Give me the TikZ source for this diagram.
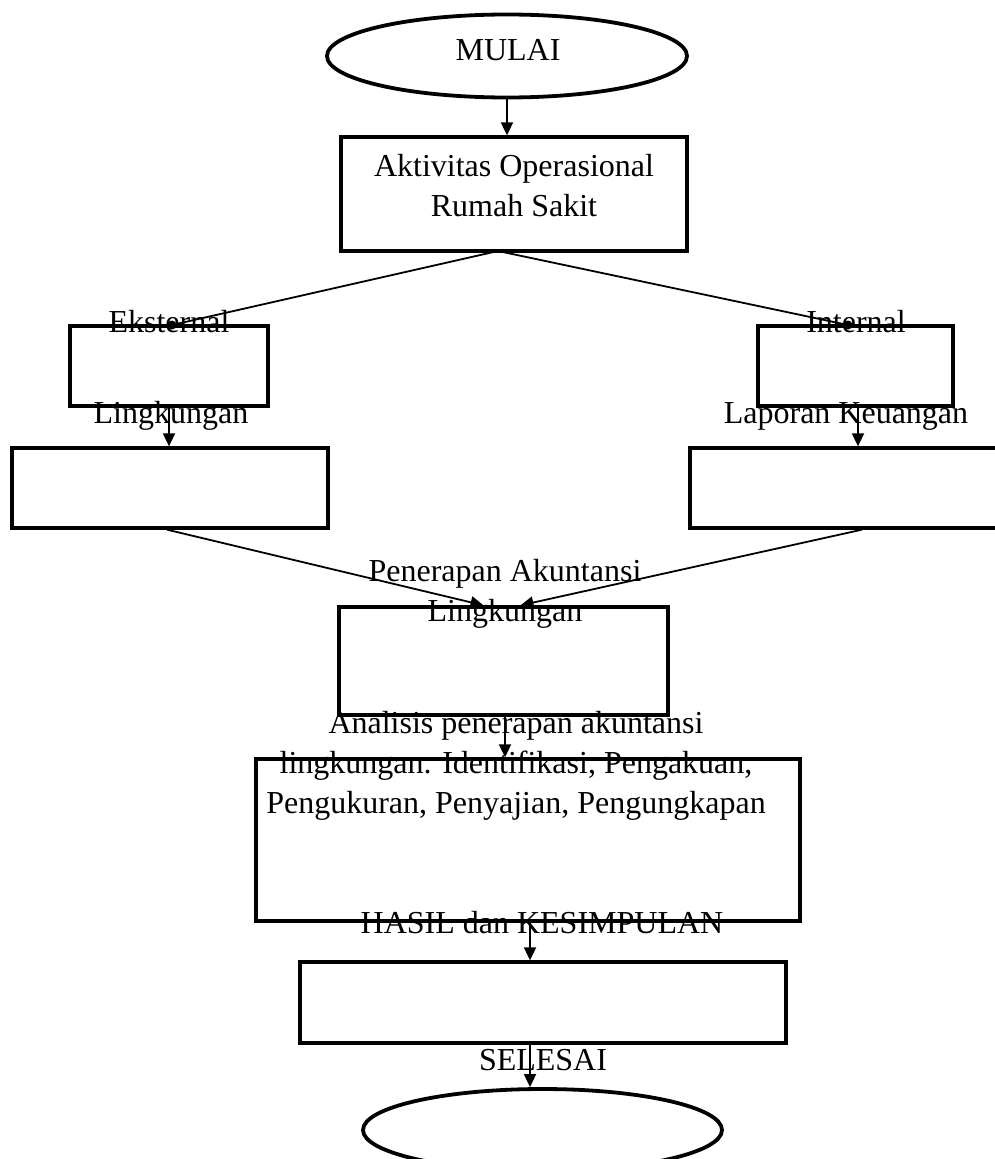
\documentclass[tikz,border=0pt]{standalone}
\usepackage{fontspec}
\setmainfont{Liberation Serif}
\usepackage{tikz}
\usetikzlibrary{shapes.geometric,arrows.meta}

\begin{document}
\begin{tikzpicture}[
				x=1pt, y={(0pt,-1pt)},
				font=\fontsize{32}{40}\selectfont,
				kotak/.style={draw, line width=3.3pt, rectangle, inner sep=0pt},
				terminal/.style={draw, line width=3.8pt, ellipse, inner sep=0pt},
				tulisan/.style={inner sep=0pt, align=center},
				titik/.style={circle, fill, inner sep=0pt, minimum size=9pt},
				panah/.style={line width=1.8pt, -{Triangle[length=13pt,width=12pt]}},
				garis/.style={line width=1.8pt}]
				\useasboundingbox (0,0) rectangle (995,1159);
				\node[terminal, minimum width=360pt, minimum height=83pt] (mulai) at (507,56) {};
				\node[kotak, minimum width=346pt, minimum height=114pt] (aktivitas) at (514,194) {};
				\node[kotak, minimum width=198pt, minimum height=80pt] (eksternal) at (169,366) {};
				\node[kotak, minimum width=195pt, minimum height=80pt] (internal) at (855.5,366) {};
				\node[kotak, minimum width=316pt, minimum height=80pt] (lingkungan) at (170,488) {};
				\node[kotak, minimum width=320pt, minimum height=80pt] (laporan) at (850,488) {};
				\node[kotak, minimum width=329pt, minimum height=108pt] (penerapan) at (503.5,661) {};
				\node[kotak, minimum width=544pt, minimum height=162pt] (analisis) at (528,840) {};
				\node[kotak, minimum width=486pt, minimum height=81pt] (hasil) at (543,1002.5) {};
				\node[terminal, minimum width=359pt, minimum height=82pt] (selesai) at (542.5,1130) {};
				\node[titik] (titikEks) at (172,325) {};
				\node[titik] (titikInt) at (848,325) {};
				\coordinate (cabang) at (498,251);
				\node[tulisan, anchor=base] (tMulai) at (508,60) {MULAI};
				\node[tulisan, anchor=north] (tAktivitas) at (514,154) {Aktivitas Operasional\\Rumah Sakit};
				\node[tulisan, anchor=base] (tEksternal) at (169,332) {Eksternal};
				\node[tulisan, anchor=base] (tInternal) at (856,332) {Internal};
				\node[tulisan, anchor=base] (tLingkungan) at (171,423) {Lingkungan};
				\node[tulisan, anchor=base] (tLaporan) at (846,423) {Laporan Keuangan};
				\node[tulisan, anchor=north] (tPenerapan) at (505,559) {Penerapan Akuntansi\\Lingkungan};
				\node[tulisan, anchor=north] (tAnalisis) at (516,711) {Analisis penerapan akuntansi\\lingkungan. Identifikasi, Pengakuan,\\Pengukuran, Penyajian, Pengungkapan};
				\node[tulisan, anchor=base] (tHasil) at (542,933) {HASIL dan KESIMPULAN};
				\node[tulisan, anchor=base] (tSelesai) at (543,1070) {SELESAI};
				\draw[panah] (mulai.south) -- (mulai.south |- aktivitas.north);
				\draw[garis] (cabang) -- (titikEks);
				\draw[garis] (cabang) -- (titikInt);
				\draw[panah] (eksternal.south) -- (eksternal.south |- lingkungan.north);
				\draw[panah] ([xshift=2.5pt]internal.south) -- ([xshift=2.5pt]internal.south |- laporan.north);
				\draw[panah] ([xshift=-3pt]lingkungan.south) -- ([xshift=-20pt]penerapan.north);
				\draw[panah] ([xshift=12pt]laporan.south) -- ([xshift=17pt]penerapan.north);
				\draw[panah] ([xshift=1.5pt]penerapan.south) -- ([xshift=1.5pt]penerapan.south |- analisis.north);
				\draw[panah] ([xshift=2pt]analisis.south) -- ([xshift=2pt]analisis.south |- hasil.north);
				\draw[panah] ([xshift=2pt]analisis.south |- hasil.south) -- ([xshift=2pt]analisis.south |- selesai.north);
\end{tikzpicture}
\end{document}
